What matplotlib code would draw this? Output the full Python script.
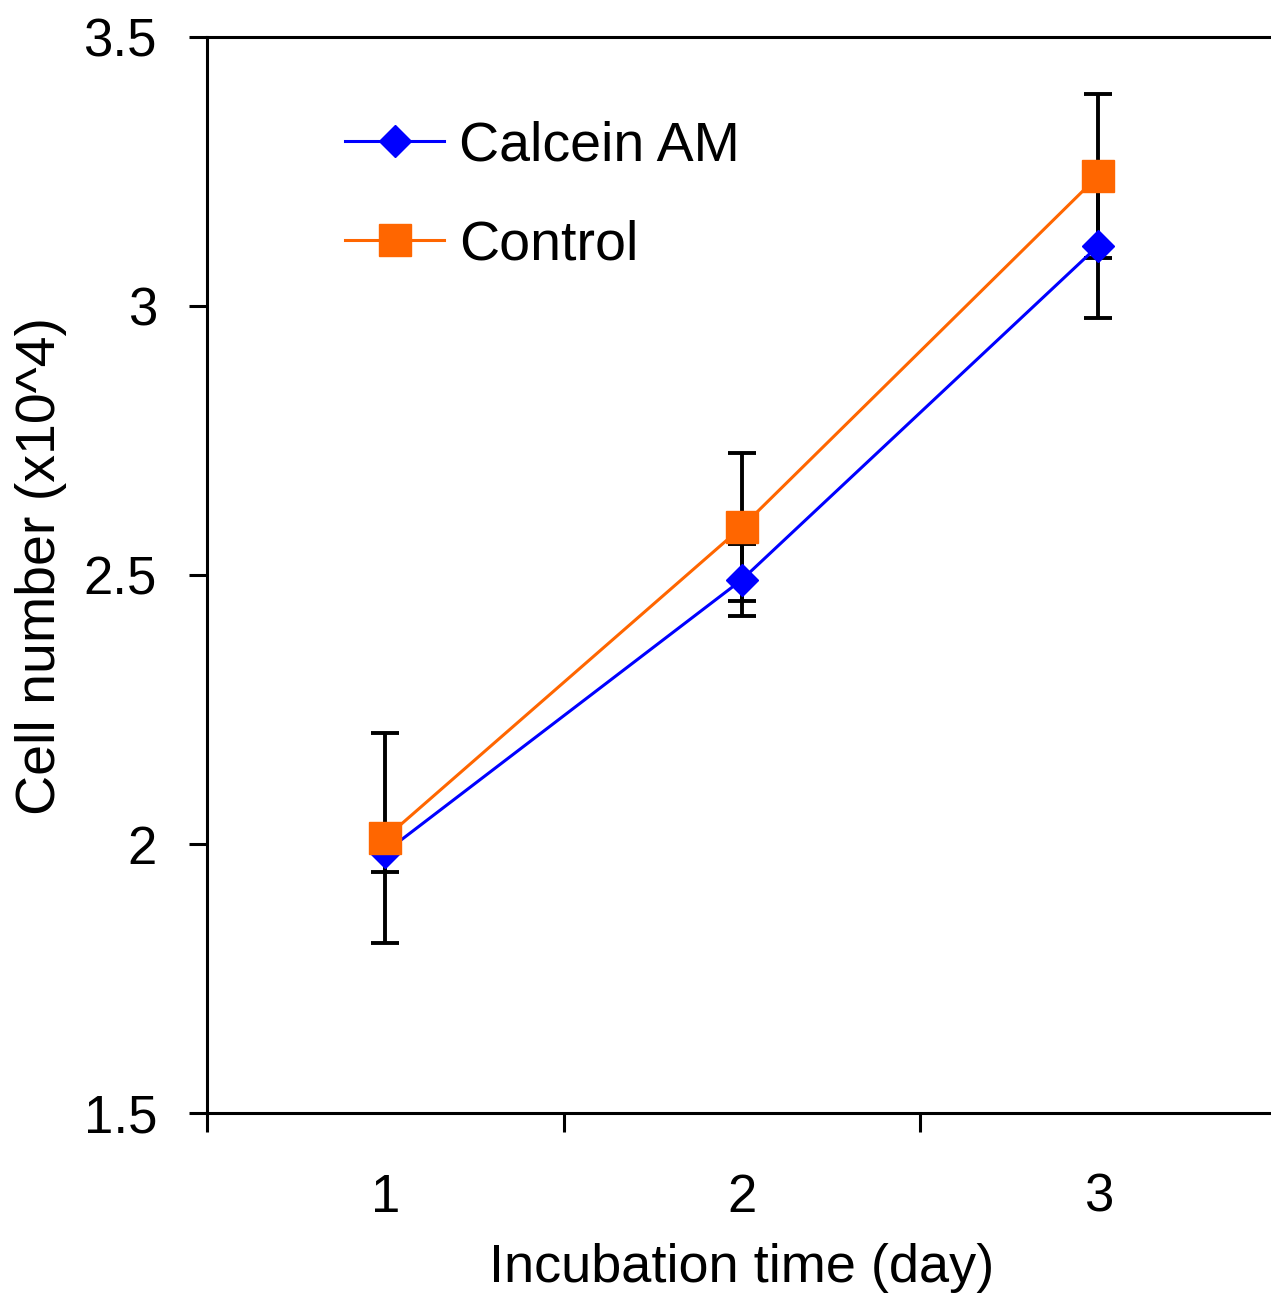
import matplotlib
matplotlib.use("Agg")
import matplotlib.pyplot as plt
from matplotlib.transforms import Bbox

plt.rcParams['font.family'] = ['Liberation Sans', 'DejaVu Sans']

days = [1, 2, 3]
day_labels = ["1", "2", "3"]
calcein = [1.985, 2.491, 3.112]
calcein_err = [0.037, 0.067, 0.134]
control = [2.011, 2.589, 3.242]
control_err = [0.195, 0.137, 0.152]
yticks = [1.5, 2, 2.5, 3, 3.5]
ytick_labels = ["1.5", "2", "2.5", "3", "3.5"]

W, H = 1271, 1298
fig = plt.figure(figsize=(W / 100, H / 100), dpi=100)
ax = fig.add_axes([207 / W, (H - 1113) / H, 1069.5 / W, 1076 / H])

blue = "#0000FF"
orange = "#FF6600"

ax.errorbar(days, calcein, yerr=calcein_err, fmt='none', ecolor='black',
            elinewidth=2.8, capsize=10, capthick=2.8, zorder=2)
ax.errorbar(days, control, yerr=control_err, fmt='none', ecolor='black',
            elinewidth=2.8, capsize=10, capthick=2.8, zorder=2)
ax.plot(days, calcein, color=blue, lw=2.2, marker='D', ms=16,
        mfc=blue, mec=blue, label="Calcein AM", zorder=3)
ax.plot(days, control, color=orange, lw=2.2, marker='s', ms=23,
        mfc=orange, mec=orange, label="Control", zorder=4)

ax.set_xlim(0.5, 3.5)
ax.set_ylim(1.5, 3.5)
ax.set_yticks(yticks)
ax.set_yticklabels(ytick_labels)
ax.set_xticks(days)
ax.set_xticklabels(day_labels)
ax.set_xticks([0.5, 1.5, 2.5, 3.5], minor=True)
ax.tick_params(axis='x', which='major', length=0, pad=43, labelsize=38)
ax.tick_params(axis='x', which='minor', direction='out', length=13.7, width=2.2)
ax.tick_params(axis='y', which='major', direction='out', length=13, width=2.2,
               pad=23, labelsize=38)
ax.tick_params(axis='y', which='minor', length=0)
for s in ax.spines.values():
    s.set_linewidth(2.2)

ax.set_xlabel("Incubation time (day)", fontsize=39)
ax.xaxis.set_label_coords(0.5, -0.121)
ax.xaxis.label.set_va('top')

t = fig.text(15 / W, (H - 815) / H, "Cell number (x10^4)", fontsize=40,
             rotation=90, rotation_mode='anchor', ha='left', va='top')
t.set_clip_on(True)
t.set_clip_box(Bbox.from_extents(0, 0, W, H - 314))

leg = ax.legend(loc='upper left', bbox_to_anchor=(0.129, 0.922), frameon=False,
                fontsize=40, handlelength=1.79, handletextpad=0.27,
                labelspacing=0.83, borderpad=0, borderaxespad=0, numpoints=1)

fig.savefig("out.png", dpi=100)
